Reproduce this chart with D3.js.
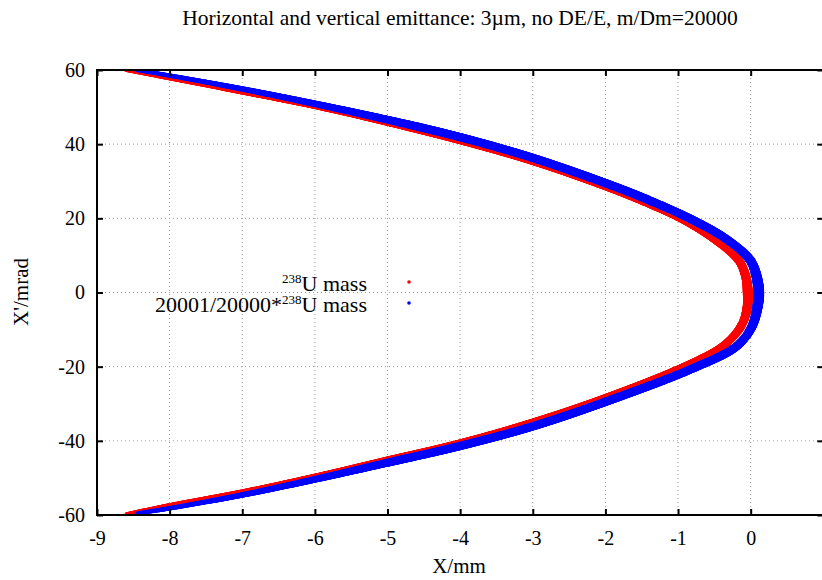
<!DOCTYPE html>
<html>
<head>
<meta charset="utf-8">
<script src="https://cdn.jsdelivr.net/npm/d3@7"></script>
<style>
  body { margin: 0; background: #fff; }
  svg { display: block; }
  text { font-family: "Liberation Serif", "DejaVu Serif", serif; fill: #000; }
</style>
</head>
<body>
<svg id="chart" width="822" height="580"></svg>
<script>
const title = "Horizontal and vertical emittance: 3\u00b5m, no DE/E, m/Dm=20000";
const xTicks = [-9, -8, -7, -6, -5, -4, -3, -2, -1, 0];
const yTicks = [-60, -40, -20, 0, 20, 40, 60];

// 238U mass: centre of the red band, top arm -> tip -> bottom arm
const redX = [-8.6, -8.0, -7.0, -6.0, -5.0, -4.0, -3.0, -2.0, -1.45, -0.93, -0.49, -0.17, -0.07, -0.04,
  -0.05, -0.13, -0.38, -0.92, -2.0, -3.0, -4.0, -5.0, -6.0, -7.0, -8.0, -8.6];
const redXp = [60.0, 57.8, 54.1, 50.3, 45.9, 41.0, 35.4, 28.6, 24.3, 19.6, 14.2, 8.8, 4.5, 0,
  -4.3, -9.0, -14.4, -20.0, -28.4, -35.0, -40.6, -45.2, -49.7, -53.8, -57.4, -59.8];

// 20001/20000*238U mass: centre of the blue band
const blueX = [-8.45, -8.0, -7.0, -6.0, -5.0, -4.0, -3.0, -2.0, -1.45, -0.8, -0.32, -0.01, 0.08, 0.11,
  0.09, 0.01, -0.2, -0.8, -2.0, -3.0, -4.0, -5.0, -6.0, -7.0, -8.0, -8.45];
const blueXp = [60.0, 58.5, 54.9, 50.9, 46.6, 41.9, 36.3, 29.5, 25.3, 19.6, 14.2, 8.8, 4.5, 0,
  -4.3, -9.5, -14.6, -20.5, -29.5, -36.1, -41.4, -45.9, -50.4, -54.6, -58.2, -59.6];

const series = [
  { label: "U mass", pre: "", sup: "238", color: "#ff0000", xs: redX, ys: redXp, widths: [5, 3.8, 3.6, 2] },
  { label: "U mass", pre: "20001/20000*", sup: "238", color: "#0000ff", xs: blueX, ys: blueXp, widths: [5.5, 4.2, 4, 2] }
];

const serif = '"Liberation Serif", "DejaVu Serif", serif';
const svg = d3.select("#chart");
const plotLeft = 97, plotRight = 823.3, plotTop = 70, plotBottom = 515;

const x = d3.scaleLinear().domain([-9, 1]).range([plotLeft, plotRight]);
const y = d3.scaleLinear().domain([-60, 60]).range([plotBottom, plotTop]);

svg.append("defs").append("clipPath").attr("id", "plotclip")
  .append("rect")
  .attr("x", plotLeft).attr("y", plotTop)
  .attr("width", plotRight - plotLeft).attr("height", plotBottom - plotTop);

// Title
svg.append("text")
  .attr("x", 460).attr("y", 25)
  .attr("text-anchor", "middle")
  .attr("font-size", 21.5)
  .text(title);

// Grid
const grid = svg.append("g").attr("stroke", "#9a9a9a").attr("stroke-width", 1)
  .attr("stroke-dasharray", "1,3");
grid.selectAll("line.gx").data(xTicks.filter(d => d > -9)).join("line")
  .attr("x1", d => x(d)).attr("x2", d => x(d))
  .attr("y1", plotTop).attr("y2", plotBottom);
grid.selectAll("line.gy").data(yTicks.filter(d => d > -60 && d < 60)).join("line")
  .attr("x1", plotLeft).attr("x2", plotRight)
  .attr("y1", d => y(d)).attr("y2", d => y(d));

// Bands: the smooth centre line is traced with dots whose size follows the band width
const plot = svg.append("g").attr("clip-path", "url(#plotclip)");
const line = d3.line()
  .x(d => x(d[0]))
  .y(d => y(d[1]))
  .curve(d3.curveCatmullRom);

series.forEach(s => {
  const pts = s.xs.map((v, i) => [v, s.ys[i]]);
  const r = d3.scaleLinear().domain([0, 12, 45, 60]).range(s.widths).clamp(true);
  const path = plot.append("path")
    .attr("d", line(pts))
    .attr("fill", "none")
    .attr("stroke", "none");
  const node = path.node();
  const len = node.getTotalLength();
  const samples = d3.range(0, len, 0.6).map(t => node.getPointAtLength(t));
  plot.append("g").selectAll("circle").data(samples).join("circle")
    .attr("cx", p => p.x)
    .attr("cy", p => p.y)
    .attr("r", p => r(Math.abs(y.invert(p.y))))
    .attr("fill", s.color);
});

// Axes (gnuplot style: ticks inward, mirrored)
function styleAxis(g) {
  g.select(".domain").remove();
  g.selectAll(".tick line").attr("stroke", "#000").attr("stroke-width", 2);
  g.selectAll(".tick text").attr("font-size", 20).attr("font-family", serif).attr("fill", "#000");
  g.attr("font-family", serif).attr("font-size", null);
}
const fmt = d => String(d);

svg.append("g")
  .attr("transform", `translate(0,${plotBottom})`)
  .call(d3.axisBottom(x).tickValues(xTicks).tickFormat(fmt).tickSize(-6).tickPadding(16))
  .call(styleAxis);
svg.append("g")
  .attr("transform", `translate(0,${plotTop})`)
  .call(d3.axisTop(x).tickValues(xTicks).tickFormat("").tickSize(-6))
  .call(styleAxis);
svg.append("g")
  .attr("transform", `translate(${plotLeft},0)`)
  .call(d3.axisLeft(y).tickValues(yTicks).tickFormat(fmt).tickSize(-6).tickPadding(12))
  .call(styleAxis);
svg.append("g")
  .attr("transform", `translate(${plotRight},0)`)
  .call(d3.axisRight(y).tickValues(yTicks).tickFormat("").tickSize(-6))
  .call(styleAxis);

// Border
svg.append("rect")
  .attr("x", plotLeft).attr("y", plotTop)
  .attr("width", plotRight - plotLeft).attr("height", plotBottom - plotTop)
  .attr("fill", "none")
  .attr("stroke", "#000")
  .attr("stroke-width", 2);

// Axis labels
svg.append("text")
  .attr("x", 459).attr("y", 573)
  .attr("text-anchor", "middle")
  .attr("font-size", 21)
  .text("X/mm");
svg.append("text")
  .attr("transform", "translate(28,292) rotate(-90)")
  .attr("text-anchor", "middle")
  .attr("font-size", 21)
  .text("X'/mrad");

// Legend
const legend = svg.append("g").attr("transform", "translate(367,291)");
const entry = legend.selectAll("g").data(series).join("g")
  .attr("transform", (d, i) => `translate(0,${i * 21})`);
const lt = entry.append("text")
  .attr("text-anchor", "end")
  .attr("font-size", 22);
lt.append("tspan").text(d => d.pre);
lt.append("tspan").attr("font-size", 13).attr("dy", -8).text(d => d.sup);
lt.append("tspan").attr("dy", 8).text(d => d.label);
entry.append("circle")
  .attr("cx", 42).attr("cy", -9)
  .attr("r", 1.8)
  .attr("fill", d => d.color);
</script>
</body>
</html>
